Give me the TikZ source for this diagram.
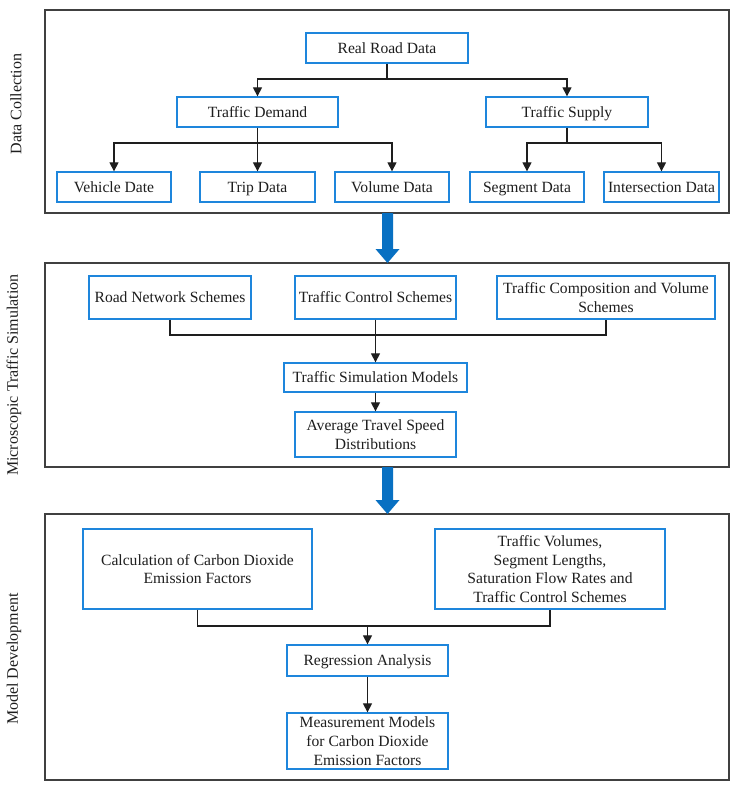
\documentclass[tikz,border=0pt]{standalone}
\usepackage{fontspec}
\setmainfont{Liberation Serif}
\usetikzlibrary{arrows.meta}
\definecolor{boxblue}{RGB}{30,134,220}
\definecolor{arrowblue}{RGB}{8,112,194}
\definecolor{inkgray}{RGB}{30,30,30}
\tikzset{
  databox/.style={draw=boxblue,line width=1.3pt,fill=white,align=center,inner sep=2pt,
    text=inkgray,font=\fontsize{15.6}{18.7}\selectfont},
  onebox/.style={databox,text height=10.5pt,text depth=0pt},
  frame/.style={draw=inkgray!85,line width=1.4pt},
  flow/.style={draw=inkgray,line width=1.2pt,-{Triangle[width=9pt,length=9pt]}},
  plain/.style={draw=inkgray,line width=1.2pt},
  sidelabel/.style={rotate=90,text=inkgray,font=\fontsize{16}{18}\selectfont}
}
\begin{document}
\begin{tikzpicture}[x=1pt,y=-1pt]
	\useasboundingbox (0,0) rectangle (739,793);
	% frames
	\draw[frame] (45,10) rectangle (729,213);
	\draw[frame] (45,263) rectangle (729,467);
	\draw[frame] (45,514) rectangle (729,780);
	\node[sidelabel] (lab1) at (16,104) {Data Collection};
	\node[sidelabel] (lab2) at (14,375) {Microscopic Traffic Simulation};
	\node[sidelabel] (lab3) at (14,659) {Model Development};
	% data collection
	\node[onebox,minimum width=162pt,minimum height=30pt] (real) at (387,48) {Real Road Data};
	\node[onebox,minimum width=161pt,minimum height=30pt] (demand) at (257.5,112) {Traffic Demand};
	\node[onebox,minimum width=162pt,minimum height=30pt] (supply) at (567,112) {Traffic Supply};
	\node[onebox,minimum width=114pt,minimum height=30pt] (vehicle) at (114,187) {Vehicle Date};
	\node[onebox,minimum width=115pt,minimum height=30pt] (trip) at (257.5,187) {Trip Data};
	\node[onebox,minimum width=114pt,minimum height=30pt] (volume) at (392,187) {Volume Data};
	\node[onebox,minimum width=114pt,minimum height=30pt] (segment) at (527,187) {Segment Data};
	\node[onebox,minimum width=115pt,minimum height=30pt] (inters) at (661.5,187) {Intersection Data};
	\coordinate (j1) at (387,79);
	\coordinate (j2) at (257.5,143);
	\coordinate (j3) at (567,143);
	\draw[plain] (real) -- (j1);
	\draw[flow] (j1) -| (demand);
	\draw[flow] (j1) -| (supply);
	\draw[plain] (demand) -- (j2);
	\draw[flow] (j2) -| (vehicle);
	\draw[flow] (j2) -- (trip);
	\draw[flow] (j2) -| (volume);
	\draw[plain] (supply) -- (j3);
	\draw[flow] (j3) -| (segment);
	\draw[flow] (j3) -| (inters);
	% big arrows
	\fill[arrowblue] (382,213) -- (393,213) -- (393,249) -- (399.5,249) -- (387.5,263) -- (375.5,249) -- (382,249) -- cycle;
	\fill[arrowblue] (382,467) -- (393,467) -- (393,500) -- (399.5,500) -- (387.5,514) -- (375.5,500) -- (382,500) -- cycle;
	% traffic simulation
	\node[onebox,minimum width=162pt,minimum height=43pt] (roadnet) at (170,297.5) {Road Network Schemes};
	\node[onebox,minimum width=161pt,minimum height=43pt] (control) at (375.5,297.5) {Traffic Control Schemes};
	\node[databox,minimum width=218pt,minimum height=43pt] (compo) at (606,297.5) {Traffic Composition and Volume\\Schemes};
	\node[onebox,minimum width=183pt,minimum height=29pt] (simmod) at (375.5,377.5) {Traffic Simulation Models};
	\node[databox,minimum width=161pt,minimum height=45pt] (speed) at (375.5,434.5) {Average Travel Speed\\Distributions};
	\coordinate (j4) at (375.5,335);
	\draw[plain] (roadnet) |- (j4) -| (compo);
	\draw[flow] (control) -- (simmod);
	\draw[flow] (simmod) -- (speed);
	% model development
	\node[databox,minimum width=229pt,minimum height=80pt] (calc) at (197.5,569) {Calculation of Carbon Dioxide\\Emission Factors};
	\node[databox,minimum width=230pt,minimum height=80pt] (vols) at (550,569) {Traffic Volumes,\\Segment Lengths,\\Saturation Flow Rates and\\Traffic Control Schemes};
	\node[onebox,minimum width=161pt,minimum height=31pt] (regr) at (367.5,660.5) {Regression Analysis};
	\node[databox,minimum width=161pt,minimum height=56pt] (measure) at (367.5,741) {Measurement Models\\for Carbon Dioxide\\Emission Factors};
	\coordinate (j5) at (367.5,626);
	\draw[plain] (calc) |- (j5) -| (vols);
	\draw[flow] (j5) -- (regr);
	\draw[flow] (regr) -- (measure);
\end{tikzpicture}
\end{document}
